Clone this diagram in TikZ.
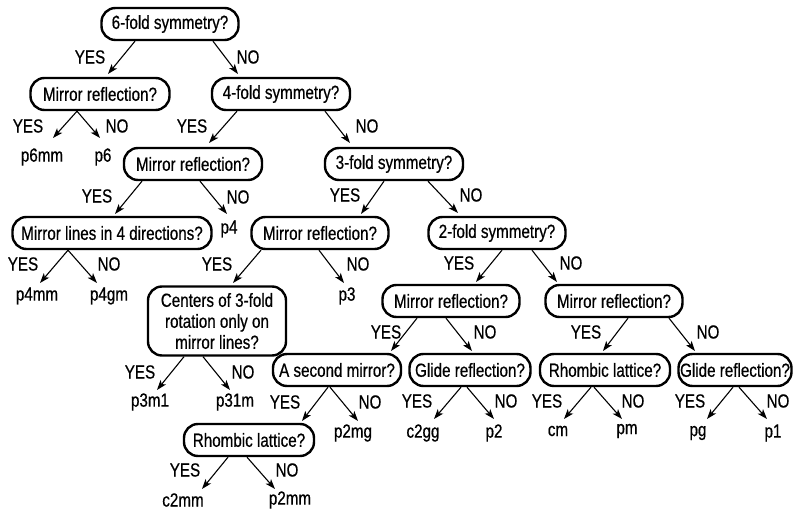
\documentclass[tikz,border=0pt]{standalone}
\usepackage{fontspec}
\setmainfont[FakeStretch=0.80,FakeBold=0.6]{Liberation Sans}
\usetikzlibrary{arrows.meta,calc}
\newcommand\dgfont{\fontsize{19}{21}\selectfont}
\begin{document}
\begin{tikzpicture}[x=1pt,y=-1pt,
  qbox/.style={draw, line width=2.4pt, rounded corners=14pt, minimum height=32pt,
               inner xsep=0pt, inner ysep=2pt, font=\dgfont},
  lbl/.style={inner sep=0pt, font=\dgfont},
  leaf/.style={inner sep=0pt, font=\dgfont},
  arr/.style={line width=1.1pt, -{Stealth[length=10pt,width=7pt,inset=2.5pt]}}]
\useasboundingbox[fill=white] (0,0) rectangle (793,510);

% question boxes
\node[qbox, minimum width=137] (q6)  at (170,24)  {6-fold symmetry?};
\node[qbox, minimum width=139] (q6m) at (100,94)  {Mirror reflection?};
\node[qbox, minimum width=138] (q4)  at (281,94)  {4-fold symmetry?};
\node[qbox, minimum width=138] (q4m) at (193,164) {Mirror reflection?};
\node[qbox, minimum width=138] (q3)  at (394,164) {3-fold symmetry?};
\node[qbox, minimum width=199] (q4d) at (112,233) {Mirror lines in 4 directions?};
\node[qbox, minimum width=137] (q3m) at (320,233) {Mirror reflection?};
\node[qbox, minimum width=137] (q2)  at (497,233) {2-fold symmetry?};
\node[qbox, minimum width=138, minimum height=69, align=center] (q3c) at (217,321)
  {Centers of 3-fold\\rotation only on\\mirror lines?};
\node[qbox, minimum width=137] (q2m) at (451,301) {Mirror reflection?};
\node[qbox, minimum width=137] (q1m) at (614,301) {Mirror reflection?};
\node[qbox, minimum width=128] (q2s) at (337,370) {A second mirror?};
\node[qbox, minimum width=121] (q2g) at (470,370) {Glide reflection?};
\node[qbox, minimum width=130] (q1r) at (605,370) {Rhombic lattice?};
\node[qbox, minimum width=113] (q1g) at (735,370) {Glide reflection?};
\node[qbox, minimum width=130] (q2r) at (249,440) {Rhombic lattice?};

% leaves
\node[leaf] (p6mm) at (42,157)  {p6mm};
\node[leaf] (p6)   at (103,157) {p6};
\node[leaf] (p4)   at (229,229) {p4};
\node[leaf] (p4mm) at (37,296)  {p4mm};
\node[leaf] (p4gm) at (109,296) {p4gm};
\node[leaf] (p3)   at (347,296) {p3};
\node[leaf] (p3m1) at (150,402) {p3m1};
\node[leaf] (p31m) at (235,402) {p31m};
\node[leaf] (p2mg) at (353,433) {p2mg};
\node[leaf] (c2gg) at (423,433) {c2gg};
\node[leaf] (p2)   at (494,433) {p2};
\node[leaf] (cm)   at (558,431) {cm};
\node[leaf] (pm)   at (627,431) {pm};
\node[leaf] (pg)   at (698,433) {pg};
\node[leaf] (p1)   at (773,433) {p1};
\node[leaf] (c2mm) at (183,500) {c2mm};
\node[leaf] (p2mm) at (290,500) {p2mm};

% YES / NO labels
\node[lbl] (y1)  at (90,57)   {YES};  \node[lbl] (n1)  at (248,57)  {NO};
\node[lbl] (y2)  at (28,126)  {YES};  \node[lbl] (n2)  at (117,126) {NO};
\node[lbl] (y3)  at (192,126) {YES};  \node[lbl] (n3)  at (367,126) {NO};
\node[lbl] (y4)  at (97,196)  {YES};  \node[lbl] (n4)  at (238,197) {NO};
\node[lbl] (y5)  at (345,195) {YES};  \node[lbl] (n5)  at (471,195) {NO};
\node[lbl] (y6)  at (23,264)  {YES};  \node[lbl] (n6)  at (109,264) {NO};
\node[lbl] (y7)  at (217,264) {YES};  \node[lbl] (n7)  at (358,264) {NO};
\node[lbl] (y8)  at (459,263) {YES};  \node[lbl] (n8)  at (571,263) {NO};
\node[lbl] (y9)  at (140,372) {YES};  \node[lbl] (n9)  at (243,372) {NO};
\node[lbl] (y10) at (386,332) {YES};  \node[lbl] (n10) at (485,332) {NO};
\node[lbl] (y11) at (586,332) {YES};  \node[lbl] (n11) at (708,332) {NO};
\node[lbl] (y12) at (285,402) {YES};  \node[lbl] (n12) at (370,402) {NO};
\node[lbl] (y13) at (417,401) {YES};  \node[lbl] (n13) at (506,401) {NO};
\node[lbl] (y14) at (547,401) {YES};  \node[lbl] (n14) at (633,401) {NO};
\node[lbl] (y15) at (690,401) {YES};  \node[lbl] (n15) at (778,401) {NO};
\node[lbl] (y16) at (185,470) {YES};  \node[lbl] (n16) at (287,470) {NO};

% connectors
\draw[arr] ($(q6.south)+(-35,0)$) -- ($(q6m)+(8,-20)$);
\draw[arr] ($(q6.south)+(43,0)$)  -- ($(q4)+(-43,-20)$);
\draw[arr] ($(q6m.south)+(-23,0)$) -- ($(p6mm)+(11,-19)$);
\draw[arr] ($(q6m.south)+(-23,0)$) -- ($(p6)+(-3,-19)$);
\draw[arr] ($(q4.south)+(-44,0)$) -- ($(q4m)+(16,-21)$);
\draw[arr] ($(q4.south)+(44,0)$)  -- ($(q3)+(-44,-21)$);
\draw[arr] ($(q4m.south)+(-51,0)$) -- ($(q4d)+(3,-19)$);
\draw[arr] ($(q4m.south)+(7,0)$)   -- ($(p4)+(-2,-15)$);
\draw[arr] ($(q3.south)+(-10,0)$) -- ($(q3m)+(41,-19)$);
\draw[arr] ($(q3.south)+(34,0)$)  -- ($(q2)+(-39,-20)$);
\draw[arr] ($(q4d.south)+(-44,0)$) -- ($(p4mm)+(3,-13)$);
\draw[arr] ($(q4d.south)+(-44,0)$) -- ($(p4gm)+(-12,-13)$);
\draw[arr] ($(q3m.south)+(-59,0)$) -- ($(q3c)+(16,-38)$);
\draw[arr] ($(q3m.south)+(-1,0)$)  -- ($(p3)+(-3,-13)$);
\draw[arr] ($(q2.south)+(5,0)$)  -- ($(q2m)+(25,-19)$);
\draw[arr] ($(q2.south)+(35,0)$) -- ($(q1m)+(-57,-19)$);
\draw[arr] ($(q3c.south)+(-33,0)$) -- ($(p3m1)+(7,-12)$);
\draw[arr] ($(q3c.south)+(-14,0)$) -- ($(p31m)+(-5,-12)$);
\draw[arr] ($(q2m.south)+(-34,0)$) -- ($(q2s)+(54,-19)$);
\draw[arr] ($(q2m.south)+(-5,0)$)  -- ($(q2g)+(2,-19)$);
\draw[arr] ($(q1m.south)+(14,0)$) -- ($(q1r)+(-2,-19)$);
\draw[arr] ($(q1m.south)+(55,0)$) -- ($(q1g)+(-40,-19)$);
\draw[arr] ($(q2s.south)+(-9,0)$) -- ($(q2r)+(53,-19)$);
\draw[arr] ($(q2s.south)+(-7,0)$) -- ($(p2mg)+(5,-12)$);
\draw[arr] ($(q2g.south)+(-9,0)$) -- ($(c2gg)+(11,-14)$);
\draw[arr] ($(q2g.south)+(-3,0)$) -- ($(p2)+(0,-14)$);
\draw[arr] ($(q1r.south)+(-14,0)$) -- ($(cm)+(6,-12)$);
\draw[arr] ($(q1r.south)+(-11,0)$) -- ($(pm)+(-5,-12)$);
\draw[arr] ($(q1g.south)+(-2,0)$) -- ($(pg)+(9,-14)$);
\draw[arr] ($(q1g.south)+(4,0)$)  -- ($(p1)+(-6,-14)$);
\draw[arr] ($(q2r.south)+(-21,0)$) -- ($(c2mm)+(19,-11)$);
\draw[arr] ($(q2r.south)+(-2,0)$)  -- ($(p2mm)+(-15,-11)$);
\end{tikzpicture}
\end{document}
